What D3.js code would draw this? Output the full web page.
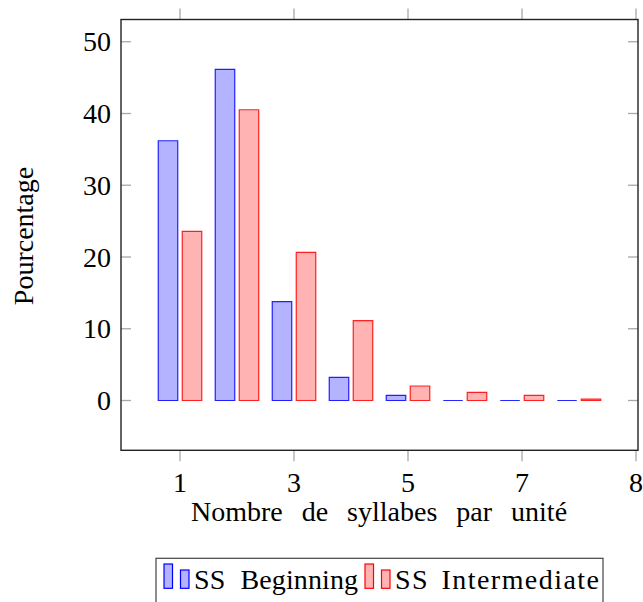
<!DOCTYPE html>
<html><head><meta charset="utf-8">
<script src="https://cdn.jsdelivr.net/npm/d3@7"></script>
<style>body{margin:0;background:#fff}svg{display:block}text{font-family:"Liberation Serif","DejaVu Serif",serif;fill:#000}</style>
</head><body>
<script>
const categories = [1, 2, 3, 4, 5, 6, 7, 8];
const beginning = [36.2, 46.15, 13.77, 3.23, 0.72, 0, 0, 0];
const intermediate = [23.58, 40.52, 20.65, 11.12, 2.02, 1.14, 0.72, 0.2];
const xTicks = [1, 3, 5, 7, 9];
const xTickLabels = ["1", "3", "5", "7", "8"];
const yTicks = [0, 10, 20, 30, 40, 50];
const seriesNames = ["SS Beginning", "SS Intermediate"];

const W = 643, H = 602;
const svg = d3.select("body").append("svg").attr("width", W).attr("height", H);
const L = 121, R = 638, T = 19.5, B = 450.3;
const x = d3.scaleLinear().domain([-0.035, 9.035]).range([L, R]);
const y = d3.scaleLinear().domain([-6.94, 53.1]).range([B, T]);
const fs = 28;
const barW = 19.5, off = 12;
const series = [
  {vals: beginning, fill: "#b3b3ff", stroke: "#0000ff", dx: -off},
  {vals: intermediate, fill: "#ffb3b3", stroke: "#ff0000", dx: off}
];
const g = svg.append("g");
series.forEach(s => {
  g.selectAll(null).data(categories).enter().append("path")
    .attr("d", (c, i) => {
      const cx = x(c) + s.dx, x0 = cx - barW / 2, x1 = cx + barW / 2;
      const y0 = y(0), y1 = y(s.vals[i]);
      return `M${x0},${y0}V${y1}H${x1}V${y0}Z`;
    })
    .attr("fill", s.fill).attr("stroke", s.stroke).attr("stroke-width", 1.2)
    .attr("stroke-opacity", 0.85);
});
// y ticks inward both sides
const tickCol = "#a8a8a8";
yTicks.forEach(t => {
  svg.append("line").attr("x1", L).attr("x2", L + 10).attr("y1", y(t)).attr("y2", y(t)).attr("stroke", tickCol).attr("stroke-width", 1.3);
  svg.append("line").attr("x1", R).attr("x2", R - 10).attr("y1", y(t)).attr("y2", y(t)).attr("stroke", tickCol).attr("stroke-width", 1.3);
  svg.append("text").attr("x", 111).attr("y", y(t)).attr("dy", "0.34em").attr("text-anchor", "end").attr("font-size", fs).text(t);
});
// x ticks outward top and bottom
xTicks.forEach((t, i) => {
  svg.append("line").attr("x1", x(t)).attr("x2", x(t)).attr("y1", T).attr("y2", T - 11).attr("stroke", tickCol).attr("stroke-width", 1.3);
  svg.append("line").attr("x1", x(t)).attr("x2", x(t)).attr("y1", B).attr("y2", B + 11).attr("stroke", tickCol).attr("stroke-width", 1.3);
  svg.append("text").attr("x", x(t)).attr("y", 492).attr("text-anchor", "middle").attr("font-size", fs).text(xTickLabels[i]);
});
// frame
svg.append("rect").attr("x", L).attr("y", T).attr("width", R - L).attr("height", B - T)
  .attr("fill", "none").attr("stroke", "#222").attr("stroke-width", 1.4);
// axis labels
svg.append("text").attr("x", 379).attr("y", 521).attr("text-anchor", "middle").attr("font-size", fs)
  .attr("word-spacing", "12px").text("Nombre de syllabes par unité");
svg.append("text").attr("transform", "translate(33,236) rotate(-90)").attr("text-anchor", "middle")
  .attr("font-size", fs).text("Pourcentage");
// legend
const lg = svg.append("g");
lg.append("rect").attr("x", 156).attr("y", 558.3).attr("width", 447).attr("height", 60)
  .attr("fill", "#fff").attr("stroke", "#444").attr("stroke-width", 1.2);
const legendItems = [
  {x: 164, s: series[0], name: seriesNames[0], len: 164, ws: 8},
  {x: 365, s: series[1], name: seriesNames[1], len: 204, ws: 4}
];
legendItems.forEach(it => {
  lg.append("rect").attr("x", it.x).attr("y", 564).attr("width", 8.5).attr("height", 24.3)
    .attr("fill", it.s.fill).attr("stroke", it.s.stroke).attr("stroke-width", 1.2);
  lg.append("rect").attr("x", it.x + 16.5).attr("y", 570).attr("width", 8.5).attr("height", 18.3)
    .attr("fill", it.s.fill).attr("stroke", it.s.stroke).attr("stroke-width", 1.2);
  lg.append("text").attr("x", it.x + 30).attr("y", 589).attr("font-size", fs).attr("word-spacing", it.ws + "px")
    .attr("textLength", it.len).attr("lengthAdjust", "spacing").text(it.name);
});
</script>
</body></html>
